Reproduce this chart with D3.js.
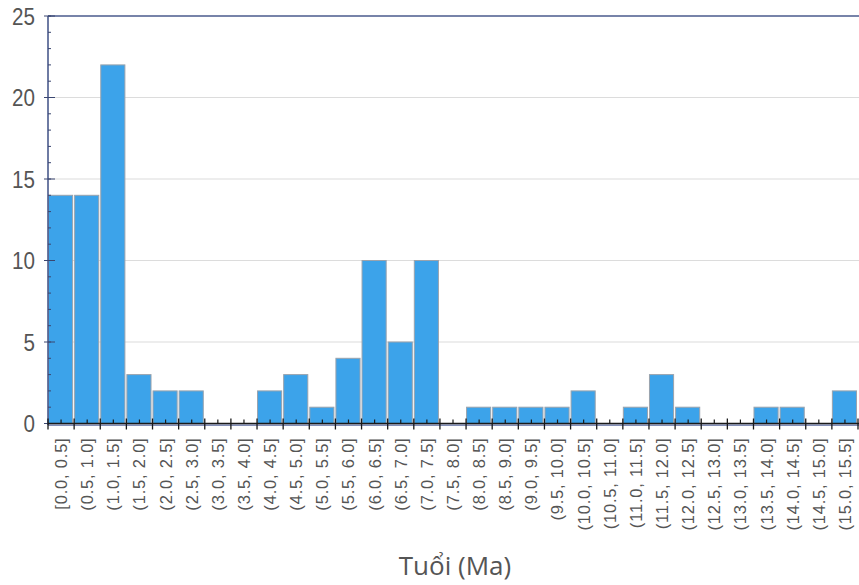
<!DOCTYPE html>
<html>
<head>
<meta charset="utf-8">
<script src="https://cdn.jsdelivr.net/npm/d3@7"></script>
<style>
  body { margin: 0; background: #fff; }
  svg { display: block; }
</style>
</head>
<body>
<svg id="chart" width="859" height="585"></svg>
<script>
// Age bins (Ma) and the number of samples in each bin
const binLabels = [
  "[0.0, 0.5]", "(0.5, 1.0]", "(1.0, 1.5]", "(1.5, 2.0]", "(2.0, 2.5]", "(2.5, 3.0]",
  "(3.0, 3.5]", "(3.5, 4.0]", "(4.0, 4.5]", "(4.5, 5.0]", "(5.0, 5.5]", "(5.5, 6.0]",
  "(6.0, 6.5]", "(6.5, 7.0]", "(7.0, 7.5]", "(7.5, 8.0]", "(8.0, 8.5]", "(8.5, 9.0]",
  "(9.0, 9.5]", "(9.5, 10.0]", "(10.0, 10.5]", "(10.5, 11.0]", "(11.0, 11.5]", "(11.5, 12.0]",
  "(12.0, 12.5]", "(12.5, 13.0]", "(13.0, 13.5]", "(13.5, 14.0]", "(14.0, 14.5]", "(14.5, 15.0]",
  "(15.0, 15.5]"
];
const binStart = [0, 0.5, 1, 1.5, 2, 2.5, 3, 3.5, 4, 4.5, 5, 5.5, 6, 6.5, 7, 7.5, 8, 8.5, 9, 9.5,
  10, 10.5, 11, 11.5, 12, 12.5, 13, 13.5, 14, 14.5, 15];
const counts = [14, 14, 22, 3, 2, 2, 0, 0, 2, 3, 1, 4, 10, 5, 10, 0, 1, 1, 1, 1,
  2, 0, 1, 3, 1, 0, 0, 1, 1, 0, 2];
const yTicks = [0, 5, 10, 15, 20, 25];
const binWidth = 0.5;
const xTitle = "Tuổi (Ma)";

const svg = d3.select("#chart");
const plotLeft = 48, plotTop = 16, plotRight = 858, plotBottom = 423.5;

const x = d3.scaleLinear().domain([0, 15.5]).range([plotLeft, plotRight]);
const y = d3.scaleLinear().domain([0, 25]).range([plotBottom, plotTop]);

// horizontal grid lines
svg.append("g")
  .selectAll("line")
  .data(yTicks.filter(v => v > 0 && v < 25))
  .join("line")
  .attr("x1", plotLeft).attr("x2", 859)
  .attr("y1", d => y(d)).attr("y2", d => y(d))
  .attr("stroke", "#dcdcdc").attr("stroke-width", 1.2);

// bars
svg.append("g")
  .selectAll("rect")
  .data(counts.map((c, i) => ({ c, s: binStart[i] })))
  .join("rect")
  .attr("x", d => x(d.s) + 0.5)
  .attr("width", d => x(d.s + binWidth) - x(d.s) - 2)
  .attr("y", d => y(d.c))
  .attr("height", d => y(0) - y(d.c))
  .attr("fill", "#3ca3ea")
  .attr("stroke", "#9aa3ad")
  .attr("stroke-width", 1);

// frame: top and left lines
svg.append("line")
  .attr("x1", plotLeft).attr("x2", 859).attr("y1", plotTop).attr("y2", plotTop)
  .attr("stroke", "#4a5a8c").attr("stroke-width", 1.6);
svg.append("line")
  .attr("x1", plotLeft).attr("x2", plotLeft).attr("y1", plotTop).attr("y2", plotBottom + 1.5)
  .attr("stroke", "#4a5a8c").attr("stroke-width", 1.6);

// y axis: major ticks with labels, minor ticks every unit
const yAxis = svg.append("g");
yAxis.selectAll("line.minor")
  .data(d3.range(0, 26))
  .join("line")
  .attr("class", "minor")
  .attr("x1", plotLeft).attr("x2", plotLeft + 3)
  .attr("y1", d => y(d)).attr("y2", d => y(d))
  .attr("stroke", "#3a4670").attr("stroke-width", 1);
yAxis.selectAll("line.major")
  .data(yTicks)
  .join("line")
  .attr("class", "major")
  .attr("x1", plotLeft - 4).attr("x2", plotLeft + 7)
  .attr("y1", d => y(d)).attr("y2", d => y(d))
  .attr("stroke", "#3a4670").attr("stroke-width", 1);
// condensed tick labels
yAxis.selectAll("text")
  .data(yTicks)
  .join("text")
  .attr("transform", d => `translate(35,${y(d)}) scale(0.86,1)`)
  .attr("dy", "0.36em")
  .attr("text-anchor", "end")
  .attr("font-family", "'Liberation Sans', Arial, sans-serif")
  .attr("font-size", 24)
  .attr("fill", "#555")
  .text(d => d);

// x axis baseline
svg.append("line")
  .attr("x1", plotLeft).attr("x2", 859).attr("y1", plotBottom + 1.6).attr("y2", plotBottom + 1.6)
  .attr("stroke", "#5a6aa0").attr("stroke-width", 1.4);
svg.append("line")
  .attr("x1", plotLeft).attr("x2", 859).attr("y1", plotBottom).attr("y2", plotBottom)
  .attr("stroke", "#1a1a1a").attr("stroke-width", 1.6);

// x axis ticks: major at bin edges, minor at bin centres
const edges = binStart.concat([15.5]);
svg.append("g").selectAll("line")
  .data(edges)
  .join("line")
  .attr("x1", d => x(d)).attr("x2", d => x(d))
  .attr("y1", plotBottom - 5).attr("y2", plotBottom + 6)
  .attr("stroke", "#1a1a1a").attr("stroke-width", 1.3);
svg.append("g").selectAll("line")
  .data(binStart)
  .join("line")
  .attr("x1", d => x(d + binWidth / 2)).attr("x2", d => x(d + binWidth / 2))
  .attr("y1", plotBottom - 4).attr("y2", plotBottom)
  .attr("stroke", "#1a1a1a").attr("stroke-width", 1.2);

// rotated bin labels
svg.append("g").selectAll("text")
  .data(binLabels.map((t, i) => ({ t, s: binStart[i] })))
  .join("text")
  .attr("transform", d => `translate(${x(d.s + binWidth / 2)},${plotBottom + 14}) rotate(-90)`)
  .attr("text-anchor", "end")
  .attr("dy", "0.36em")
  .attr("font-family", "'Liberation Sans', Arial, sans-serif")
  .attr("font-size", 16.5)
  .attr("letter-spacing", 0.8)
  .attr("fill", "#555")
  .text(d => d.t);

// axis title
svg.append("text")
  .attr("x", 455).attr("y", 575)
  .attr("text-anchor", "middle")
  .attr("font-family", "'Open Sans', 'Noto Sans', sans-serif")
  .attr("font-size", 26)
  .attr("fill", "#555")
  .text(xTitle);
</script>
</body>
</html>
